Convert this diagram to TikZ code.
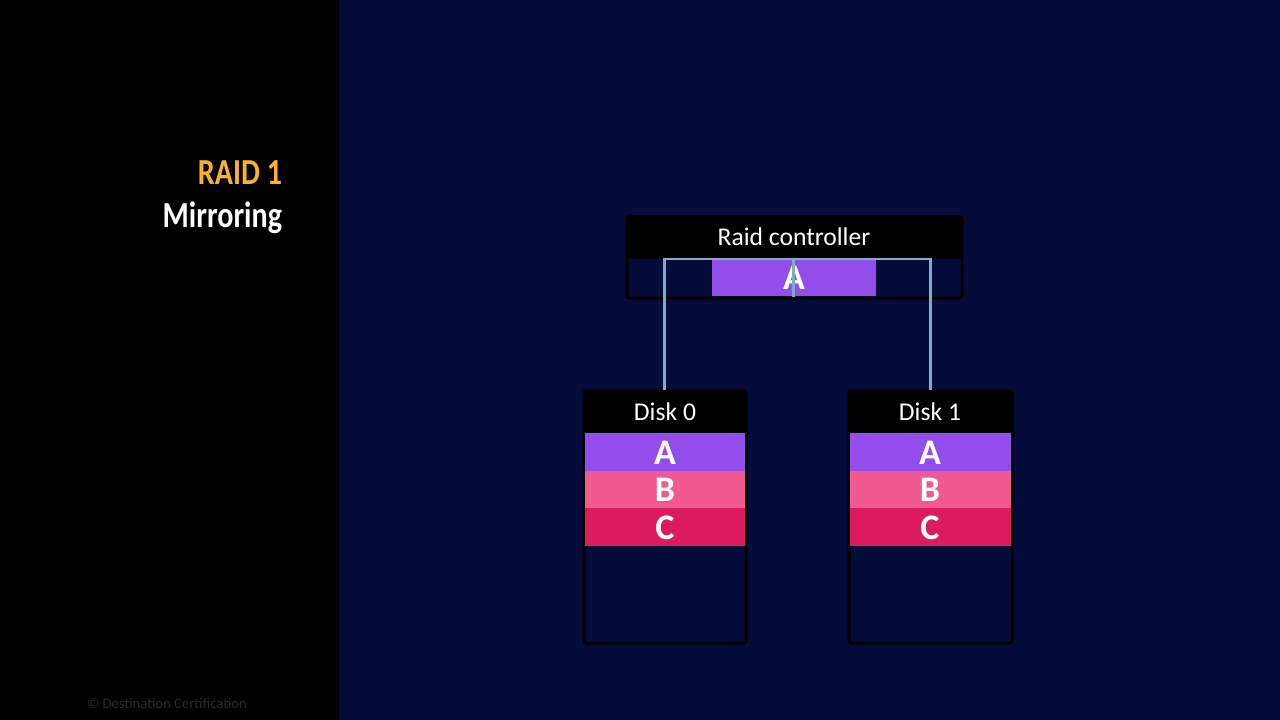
\documentclass[tikz,border=0pt]{standalone}
\usepackage{fontspec}
\setmainfont{Carlito}
\newfontfamily\titlefont[FakeStretch=0.82]{Carlito}
\definecolor{navybg}{RGB}{5,12,57}
\definecolor{blockA}{RGB}{147,77,235}
\definecolor{blockB}{RGB}{240,90,142}
\definecolor{blockC}{RGB}{220,26,94}
\definecolor{titlegold}{RGB}{251,177,43}
\definecolor{wirecol}{RGB}{120,175,198}
\definecolor{copygrey}{RGB}{40,40,40}
\tikzset{every picture/.style={line width=0.75pt}}
\tikzset{
  boxframe/.style={draw=black,line width=2.25pt,rounded corners=1.5pt},
  headbar/.style={fill=black,draw=black,line width=0.75pt,rounded corners=1pt},
  wire/.style={draw=wirecol,line width=1.7pt},
  headtext/.style={anchor=center,inner sep=0.75pt,text=white,font=\fontsize{19.2}{23}\selectfont},
  blocktext/.style={anchor=center,inner sep=0.75pt,text=white,font=\fontsize{27}{32}\selectfont\bfseries},
  titletext/.style={anchor=east,inner sep=0.75pt,font=\fontsize{27.5}{32}\titlefont\bfseries},
}
\begin{document}
\begin{tikzpicture}[x=0.75pt,y=0.75pt,yscale=-1,xscale=1]
        \useasboundingbox (0,0) rectangle (1280,720);
        %Shape: Background
        \fill [navybg] (0,0) rectangle (1280,720);
        \fill [black] (0,0) rectangle (338.5,720);

        % Text Node
        \node (raidtitle) at (283.5,173) [titletext,text=titlegold] {RAID 1};
        % Text Node
        \node (mirrortitle) at (283.5,217.5) [titletext,text=white] {Mirroring};
        % Text Node
        \node (copyright) at (167,703) [anchor=center,inner sep=0.75pt,text=copygrey,font=\fontsize{11}{13}\selectfont] {© Destination Certification};

        %Shape: Raid controller
        \fill [blockA] (712,259) rectangle (876,296);
        \draw [boxframe] (627,217) rectangle (962,298);
        \draw [headbar] (627,217) rectangle (962,258);
        \node (ctrlhead) at (794,237) [headtext] {Raid controller};
        \node (ctrlA) at (794,278) [blocktext] {A};

        %Shape: Disk 0
        \draw [boxframe] (584,391) rectangle (746,643);
        \draw [headbar] (584,391) rectangle (746,432);
        \node (diskzerohead) at (665,412) [headtext] {Disk 0};
        \fill [blockA] (585,433) rectangle (745,470.5);
        \fill [blockB] (585,470.5) rectangle (745,508);
        \fill [blockC] (585,508) rectangle (745,546);
        \node (diskzeroA) at (665,453) [blocktext] {A};
        \node (diskzeroB) at (665,490) [blocktext] {B};
        \node (diskzeroC) at (665,528) [blocktext] {C};

        %Shape: Disk 1
        \draw [boxframe] (849,391) rectangle (1012,643);
        \draw [headbar] (849,391) rectangle (1012,432);
        \node (diskonehead) at (930,412) [headtext] {Disk 1};
        \fill [blockA] (850,433) rectangle (1011,470.5);
        \fill [blockB] (850,470.5) rectangle (1011,508);
        \fill [blockC] (850,508) rectangle (1011,546);
        \node (diskoneA) at (930,453) [blocktext] {A};
        \node (diskoneB) at (930,490) [blocktext] {B};
        \node (diskoneC) at (930,528) [blocktext] {C};

        %Straight Lines
        \coordinate (wiretop) at (793.5,259);
        \coordinate (wirefoot) at (793.5,297);
        \coordinate (diskzerotop) at (664.5,390);
        \coordinate (diskonetop) at (930.5,390);
        \draw [wire] (diskzerotop) |- (wiretop) -| (diskonetop);
        \draw [wire] (wiretop) -- (wirefoot);

\end{tikzpicture}
\end{document}
